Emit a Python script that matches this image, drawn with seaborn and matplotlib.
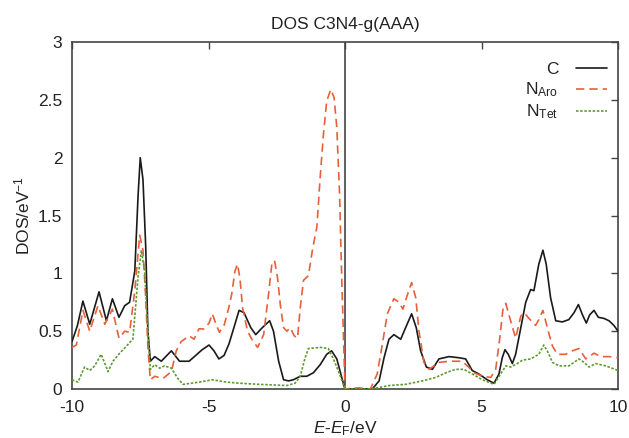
import matplotlib
matplotlib.use("Agg")
import matplotlib.pyplot as plt
import seaborn as sns
import pandas as pd

# Energy grid (eV, relative to the Fermi level) and DOS values (states/eV)
c_energy = [-10, -9.8, -9.6, -9.35, -9.01, -8.74, -8.52, -8.28, -8.07, -7.89, -7.7, -7.58,
            -7.5, -7.4, -7.3, -7.22, -7.13, -6.97, -6.73, -6.36, -6.06, -5.71, -5.47, -5.23,
            -4.98, -4.8, -4.62, -4.43, -4.25, -4.07, -3.88, -3.7, -3.45, -3.27, -3.03, -2.76,
            -2.62, -2.43, -2.25, -2.07, -1.89, -1.64, -1.4, -1.16, -0.91, -0.67, -0.49, -0.3,
            -0.12, 0, 1.0, 1.25, 1.43, 1.61, 1.79, 2.04, 2.22, 2.44, 2.61, 2.77, 2.98, 3.2,
            3.44, 3.81, 4.18, 4.42, 4.66, 4.9, 5.21, 5.46, 5.64, 5.76, 5.86, 5.98, 6.13, 6.25,
            6.44, 6.62, 6.8, 6.92, 7.1, 7.25, 7.37, 7.53, 7.72, 7.96, 8.2, 8.39, 8.55, 8.7,
            8.84, 8.96, 9.12, 9.28, 9.49, 9.67, 9.85, 10]
c_dos = [0.41, 0.55, 0.76, 0.56, 0.84, 0.59, 0.78, 0.62, 0.72, 0.75, 1.02, 1.67,
         2.0, 1.81, 1.23, 0.5, 0.24, 0.28, 0.24, 0.33, 0.24, 0.24, 0.29, 0.34,
         0.38, 0.33, 0.26, 0.29, 0.39, 0.53, 0.68, 0.66, 0.53, 0.47, 0.53, 0.59,
         0.5, 0.24, 0.08, 0.07, 0.08, 0.11, 0.11, 0.14, 0.21, 0.3, 0.33, 0.26,
         0.1, 0, 0, 0.07, 0.27, 0.43, 0.47, 0.43, 0.53, 0.65, 0.53, 0.33, 0.19, 0.17,
         0.26, 0.28, 0.27, 0.26, 0.16, 0.13, 0.08, 0.05, 0.13, 0.27, 0.34, 0.30, 0.22, 0.3,
         0.53, 0.75, 0.86, 0.85, 1.08, 1.2, 1.08, 0.79, 0.59, 0.58, 0.6, 0.66, 0.73, 0.64,
         0.57, 0.64, 0.68, 0.62, 0.61, 0.59, 0.55, 0.5]

naro_energy = [-10, -9.84, -9.6, -9.35, -9.05, -8.8, -8.52, -8.28, -8.07, -7.89, -7.7, -7.52,
               -7.4, -7.3, -7.22, -7.13, -6.97, -6.67, -6.36, -6.18, -6.0, -5.71, -5.53, -5.35,
               -5.16, -4.98, -4.86, -4.74, -4.6, -4.43, -4.27, -4.15, -4.03, -3.94, -3.85, -3.75,
               -3.57, -3.39, -3.2, -2.98, -2.8, -2.68, -2.58, -2.47, -2.37, -2.25, -2.13, -2.0,
               -1.86, -1.74, -1.64, -1.52, -1.34, -1.18, -1.03, -0.91, -0.79, -0.67, -0.52, -0.4,
               -0.3, -0.2, -0.12, -0.03, 0, 0.5, 0.93, 1.18, 1.37, 1.55, 1.79, 1.98, 2.12, 2.28,
               2.44, 2.59, 2.71, 2.89, 3.08, 3.26, 3.44, 3.81, 4.3, 4.48, 4.73, 5.03, 5.34, 5.52,
               5.67, 5.79, 5.89, 6.03, 6.25, 6.44, 6.56, 6.74, 6.98, 7.1, 7.25, 7.41, 7.6, 7.78,
               8.08, 8.33, 8.57, 8.82, 9.12, 9.37, 9.67, 10]
naro_dos = [0.36, 0.38, 0.68, 0.5, 0.72, 0.56, 0.69, 0.44, 0.5, 0.49, 0.85, 1.33,
            1.2, 0.79, 0.36, 0.08, 0.11, 0.09, 0.15, 0.33, 0.41, 0.46, 0.43, 0.52,
            0.52, 0.57, 0.65, 0.57, 0.49, 0.55, 0.69, 0.82, 1.02, 1.08, 0.96, 0.7,
            0.5, 0.42, 0.36, 0.47, 0.82, 1.08, 1.11, 0.96, 0.73, 0.53, 0.5, 0.53,
            0.46, 0.44, 0.7, 0.94, 0.98, 1.22, 1.4, 1.83, 2.2, 2.49, 2.59, 2.52,
            2.26, 1.69, 0.96, 0.24, 0, 0.01, 0, 0.13, 0.39, 0.65, 0.78, 0.75, 0.69, 0.81,
            0.92, 0.79, 0.5, 0.23, 0.17, 0.2, 0.23, 0.24, 0.24, 0.2, 0.14, 0.11, 0.1, 0.17,
            0.44, 0.7, 0.74, 0.62, 0.44, 0.63, 0.66, 0.61, 0.55, 0.6, 0.68, 0.53, 0.37, 0.3,
            0.3, 0.33, 0.35, 0.26, 0.31, 0.28, 0.28, 0.27]

ntet_energy = [-10, -9.78, -9.54, -9.35, -9.17, -8.93, -8.68, -8.5, -8.25, -7.89, -7.77, -7.58,
               -7.46, -7.34, -7.25, -7.13, -6.97, -6.79, -6.61, -6.36, -6.12, -5.93, -5.32, -4.86,
               -4.35, -3.87, -3.14, -2.13, -1.83, -1.64, -1.46, -1.34, -0.91, -0.61, -0.37, -0.12,
               0, 0.98, 1.61, 2.22, 2.83, 3.32, 3.69, 4.05, 4.36, 4.66, 5.03, 5.46, 5.7, 5.89,
               6.07, 6.31, 6.5, 6.8, 7.1, 7.28, 7.41, 7.6, 7.84, 8.2, 8.57, 8.76, 8.94, 9.18,
               9.55, 10]
ntet_dos = [0.08, 0.06, 0.19, 0.16, 0.2, 0.3, 0.15, 0.24, 0.31, 0.4, 0.43, 0.97,
            1.2, 1.02, 0.62, 0.17, 0.21, 0.18, 0.2, 0.18, 0.09, 0.04, 0.06, 0.08,
            0.06, 0.05, 0.04, 0.03, 0.05, 0.11, 0.27, 0.35, 0.36, 0.35, 0.23, 0.08,
            0, 0, 0.03, 0.04, 0.07, 0.1, 0.14, 0.17, 0.17, 0.13, 0.08, 0.04, 0.13, 0.2,
            0.19, 0.22, 0.25, 0.26, 0.3, 0.38, 0.33, 0.23, 0.2, 0.2, 0.26, 0.23, 0.19, 0.22,
            0.2, 0.16]

x_ticks = [-10, -5, 0, 5, 10]
y_ticks = [0, 0.5, 1, 1.5, 2, 2.5, 3]

sns.set_style("white")
plt.rcParams.update({
    "font.family": ["Liberation Sans", "DejaVu Sans"],
    "mathtext.fontset": "custom",
    "mathtext.rm": "Liberation Sans",
    "mathtext.it": "Liberation Sans:italic",
    "mathtext.bf": "Liberation Sans:bold",
    "axes.unicode_minus": False,
    "font.size": 12.5,
})

frames = {
    "C": pd.DataFrame({"E": c_energy, "DOS": c_dos}),
    "N$_{\\mathrm{Aro}}$": pd.DataFrame({"E": naro_energy, "DOS": naro_dos}),
    "N$_{\\mathrm{Tet}}$": pd.DataFrame({"E": ntet_energy, "DOS": ntet_dos}),
}
styles = {
    "C": dict(color="#1a1a1a", linestyle="-"),
    "N$_{\\mathrm{Aro}}$": dict(color="#e8603a", linestyle=(0, (5, 3))),
    "N$_{\\mathrm{Tet}}$": dict(color="#5e9a30", linestyle=(0, (1.5, 1.0))),
}

W, H = 629, 438
fig = plt.figure(figsize=(W / 100, H / 100), dpi=100)
left, right, top, bottom = 72, 618, 42, 389
ax = fig.add_axes([left / W, 1 - bottom / H, (right - left) / W, (bottom - top) / H])

ax.axvline(0, color="#444444", lw=1.2, zorder=1)

for name, df in frames.items():
    sns.lineplot(data=df, x="E", y="DOS", ax=ax, label=name, lw=1.2,
                 estimator=None, errorbar=None, sort=False, zorder=3,
                 **styles[name])

ax.set_xlim(-10, 10)
ax.set_ylim(0, 3)
ax.set_xticks(x_ticks)
ax.set_xticklabels([f"{t:g}" for t in x_ticks])
ax.set_yticks(y_ticks)
ax.set_yticklabels([f"{t:g}" for t in y_ticks])

for s in ax.spines.values():
    s.set_color("#444444")
    s.set_linewidth(1.2)
ax.tick_params(direction="in", length=5, width=1, color="#444444",
               top=True, right=True, labelsize=12.5, labelcolor="#222222")
ax.tick_params(axis="x", pad=8)
ax.tick_params(axis="y", pad=7)

ax.set_title("DOS C3N4-g(AAA)", fontsize=12.5, color="#222222", pad=9)
ax.set_xlabel(r"$E$-$E_{\mathrm{F}}$/eV", fontsize=12.5, color="#222222", labelpad=3)
ax.set_ylabel(r"DOS/eV$^{-1}$", fontsize=12.5, color="#222222", labelpad=4)

leg = ax.legend(loc="upper right", bbox_to_anchor=(607 / W, 1 - 62 / H),
                bbox_transform=fig.transFigure, frameon=False, markerfirst=False,
                handlelength=1.8, handletextpad=1.0, labelspacing=0.2,
                borderpad=0, borderaxespad=0, fontsize=12.5)
for t in leg.get_texts():
    t.set_color("#222222")

fig.savefig("out.png", dpi=100)
